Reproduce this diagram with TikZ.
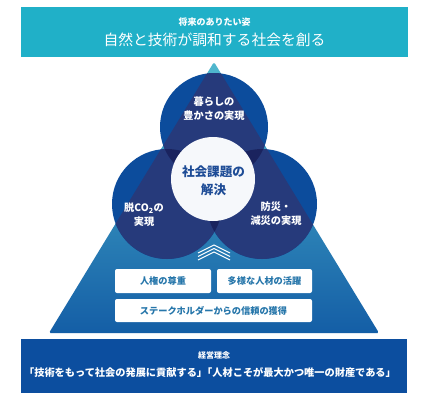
\documentclass[tikz,border=0pt]{standalone}
\usepackage{fontspec}
\setmainfont{Noto Sans CJK JP}
\definecolor{banner}{RGB}{32,176,200}
\definecolor{philo}{RGB}{12,78,159}
\definecolor{cblue}{RGB}{12,76,156}
\definecolor{cnavy}{RGB}{38,58,123}
\definecolor{cdark}{RGB}{26,35,94}
\definecolor{tritop}{RGB}{80,184,206}
\definecolor{tribot}{RGB}{20,94,166}
\definecolor{boxtext}{RGB}{38,118,170}
\definecolor{coretext}{RGB}{30,76,150}
\definecolor{corefill}{RGB}{246,248,251}
\begin{document}
\begin{tikzpicture}[x=1pt,y=-1pt,
  bannerbox/.style={fill=#1,inner sep=0pt,draw=none},
  wtext/.style={text=white,inner sep=0pt,align=center},
  circtext/.style={text=white,inner sep=0pt,align=center,font=\fontsize{10.2}{14}\selectfont\bfseries},
  valuebox/.style={fill=white,rounded corners=2pt,inner sep=0pt,text=boxtext,font=\fontsize{9.2}{10}\selectfont\bfseries},
  chev/.style={white,line width=1.1pt}
]
\useasboundingbox (0,0) rectangle (422,402);
\fill[white] (0,0) rectangle (422,402);

% top banner
\node[bannerbox=banner,minimum width=387pt,minimum height=50pt] (vision) at (214.5,32) {};
\node[wtext,font=\fontsize{9}{9}\selectfont\bfseries] (visionsub) at (214.5,22) {将来のありたい姿};
\node[wtext,font=\fontsize{14.8}{15}\selectfont] (visionmain) at (214.5,40) {自然と技術が調和する社会を創る};

% triangle
\coordinate (apex) at (214,62);
\coordinate (bl) at (49,333);
\coordinate (br) at (379,333);
\shade[top color=tritop,bottom color=tribot,rounded corners=1.5pt] (apex) -- (bl) -- (br) -- cycle;

% circles
\coordinate (ctop) at (214,127);
\coordinate (cleft) at (167,204);
\coordinate (cright) at (262,204);
\coordinate (ccore) at (213,179);
\fill[cblue] (ctop) circle[radius=54pt];
\fill[cblue] (cleft) circle[radius=55pt];
\fill[cblue] (cright) circle[radius=55pt];
\begin{scope}
  \clip (apex) -- (bl) -- (br) -- cycle;
  \fill[cnavy] (ctop) circle[radius=54pt];
  \fill[cnavy] (cleft) circle[radius=55pt];
  \fill[cnavy] (cright) circle[radius=55pt];
\end{scope}
\begin{scope}
  \clip (apex) -- (bl) -- (br) -- cycle;
  \clip (ctop) circle[radius=54pt];
  \fill[cdark] (cleft) circle[radius=55pt];
  \fill[cdark] (cright) circle[radius=55pt];
\end{scope}
\begin{scope}
  \clip (apex) -- (bl) -- (br) -- cycle;
  \clip (cleft) circle[radius=55pt];
  \fill[cdark] (cright) circle[radius=55pt];
\end{scope}
\fill[corefill] (ccore) circle[radius=42pt];

% circle texts
\node[circtext] (live) at (214,108.5) {暮らしの\\豊かさの実現};
\node[circtext] (co2) at (144,214.5) {脱CO\textsubscript{2}の\\実現};
\node[circtext] (disaster) at (276,214) {防災・\\減災の実現};
\node[inner sep=0pt,align=center,text=coretext,font=\fontsize{12.6}{18}\selectfont\bfseries] (core) at (213.5,181) {社会課題の\\解決};

% chevrons
\draw[chev] (198,253) -- (214,245) -- (230,253);
\draw[chev] (198,256.5) -- (214,248.5) -- (230,256.5);
\draw[chev] (198,260) -- (214,252) -- (230,260);

% value boxes
\node[valuebox,minimum width=96pt,minimum height=24pt] (human) at (163,281) {人権の尊重};
\node[valuebox,minimum width=95pt,minimum height=24pt] (diverse) at (264.5,281) {多様な人材の活躍};
\node[valuebox,minimum width=197pt,minimum height=23pt] (trust) at (213.5,310.5) {ステークホルダーからの信頼の獲得};

% bottom banner
\node[bannerbox=philo,minimum width=386pt,minimum height=54pt] (philosophy) at (214,366) {};
\node[wtext,font=\fontsize{8}{8}\selectfont\bfseries] (philotitle) at (214,355) {経営理念};
\node[wtext,font=\fontsize{10.2}{11}\selectfont\bfseries] (philotext) at (210,373) {「技術をもって社会の発展に貢献する」\kern-5pt「人材こそが最大かつ唯一の財産である」};
\end{tikzpicture}
\end{document}
